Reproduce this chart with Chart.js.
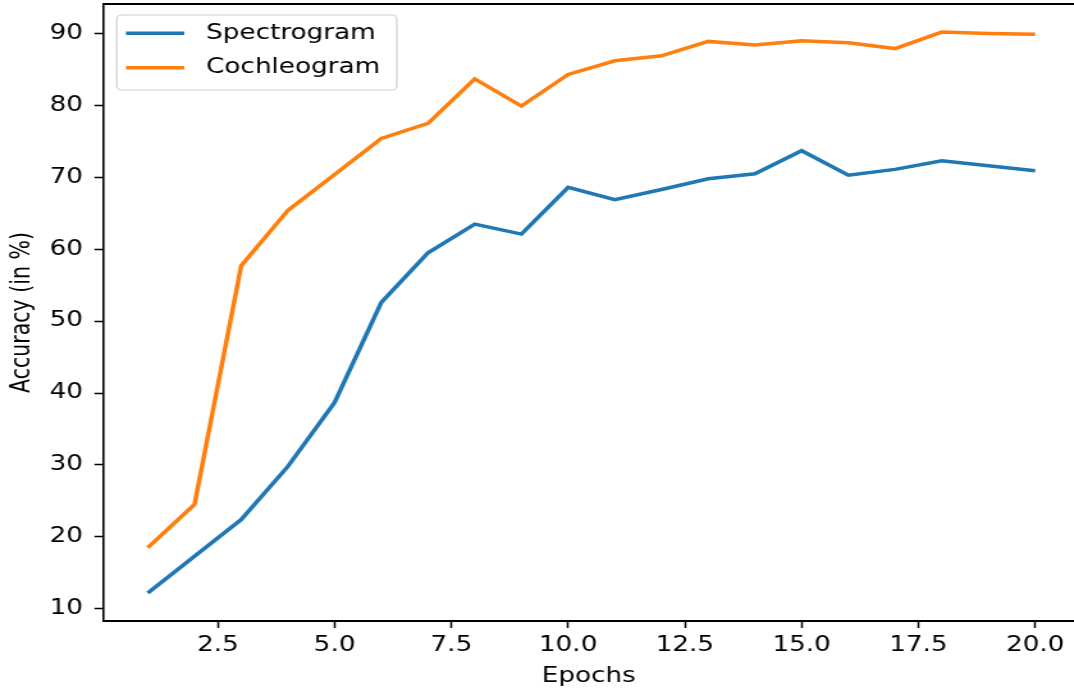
<!DOCTYPE html>
<html>
<head>
<meta charset="utf-8">
<script src="https://cdn.jsdelivr.net/npm/chart.js@4/dist/chart.umd.min.js"></script>
<style>
html,body{margin:0;padding:0;background:#fff;overflow:hidden;}
/* the reference figure is stretched sideways, so draw narrower and widen */
#wrap{width:839px;height:694px;transform:scaleX(1.28);transform-origin:0 0;}
</style>
</head>
<body>
<div id="wrap"><canvas id="myChart" width="839" height="694"></canvas></div>
<script>
var epochs=[1,2,3,4,5,6,7,8,9,10,11,12,13,14,15,16,17,18,19,20];
var spectrogram=[12.2,17.3,22.4,29.8,38.7,52.6,59.5,63.5,62.1,68.6,66.9,68.3,69.8,70.5,73.7,70.3,71.1,72.3,71.6,70.9];
var cochleogram=[18.5,24.5,57.7,65.4,70.4,75.4,77.5,83.7,79.9,84.3,86.2,86.9,88.9,88.4,89.0,88.7,87.9,90.2,90.0,89.9];
var xTicks=[2.5,5,7.5,10,12.5,15,17.5,20];
var yTicks=[10,20,30,40,50,60,70,80,90];

function points(vals){
	return epochs.map(function(e,i){return {x:e,y:vals[i]};});
}

Chart.defaults.font.family='"DejaVu Sans"';
Chart.defaults.color='#000';

var boxLegend={
	id:'boxLegend',
	afterDraw:function(chart){
		var c=chart.ctx,a=chart.chartArea;
		c.save();
		c.strokeStyle='#000';
		c.lineWidth=2;
		c.beginPath();c.moveTo(a.left,a.top);c.lineTo(a.right,a.top);c.stroke();
		var x=a.left+10.4,y=a.top+11,w=218.8,h=75;
		c.fillStyle='rgba(255,255,255,0.8)';
		c.strokeStyle='#d0d0d0';
		c.lineWidth=1.2;
		c.beginPath();c.roundRect(x,y,w,h,4);c.fill();c.stroke();
		c.font='20.5px "DejaVu Sans"';
		c.textBaseline='middle';
		c.textAlign='left';
		chart.data.datasets.forEach(function(ds,i){
			var yy=y+18.3+i*34.4;
			c.strokeStyle=ds.borderColor;
			c.lineWidth=3.5;
			c.beginPath();c.moveTo(x+7.2,yy);c.lineTo(x+52.8,yy);c.stroke();
			c.fillStyle='#000';
			c.fillText(ds.label,x+69.8,yy);
		});
		c.restore();
	}
};

var ctx=document.getElementById('myChart').getContext('2d');
var myChart=new Chart(ctx,{
	type:'line',
	data:{
		datasets:[{
			label:'Spectrogram',
			data:points(spectrogram),
			borderColor:'#1f77b4',
			backgroundColor:'#1f77b4'
		},{
			label:'Cochleogram',
			data:points(cochleogram),
			borderColor:'#ff7f0e',
			backgroundColor:'#ff7f0e'
		}]
	},
	options:{
		responsive:false,
		animation:false,
		layout:{padding:{top:4,left:0,right:0,bottom:0}},
		elements:{
			point:{radius:0},
			line:{borderWidth:3.5,tension:0}
		},
		plugins:{
			legend:{display:false},
			tooltip:{enabled:false}
		},
		scales:{
			x:{
				type:'linear',
				min:0.05,
				max:20.83,
				afterBuildTicks:function(s){s.ticks=xTicks.map(function(v){return {value:v};});},
				afterFit:function(s){s.height=73;s.paddingLeft=0;s.paddingRight=0;},
				ticks:{
					color:'#000',
					font:{size:20.5},
					padding:5,
					maxRotation:0,
					autoSkip:false,
					callback:function(v){return v.toFixed(1);}
				},
				grid:{drawOnChartArea:false,tickLength:7,tickColor:'#000',tickWidth:1.5},
				border:{color:'#000',width:2},
				title:{display:true,text:'Epochs',color:'#000',font:{size:20.5},padding:{top:0,bottom:4.7}}
			},
			y:{
				type:'linear',
				min:8.3,
				max:94.1,
				afterBuildTicks:function(s){s.ticks=yTicks.map(function(v){return {value:v};});},
				afterFit:function(s){s.width=80.8;s.paddingTop=0;s.paddingBottom=0;},
				ticks:{
					color:'#000',
					font:{size:20.5},
					padding:9,
					autoSkip:false,
					callback:function(v){return String(v);}
				},
				grid:{drawOnChartArea:false,tickLength:7,tickColor:'#000',tickWidth:1.5},
				border:{color:'#000',width:1.6},
				title:{display:true,text:'Accuracy (in %)',color:'#000',font:{size:20.5},padding:{top:5.3,bottom:0}}
			}
		}
	},
	plugins:[boxLegend]
});
</script>
</body>
</html>
